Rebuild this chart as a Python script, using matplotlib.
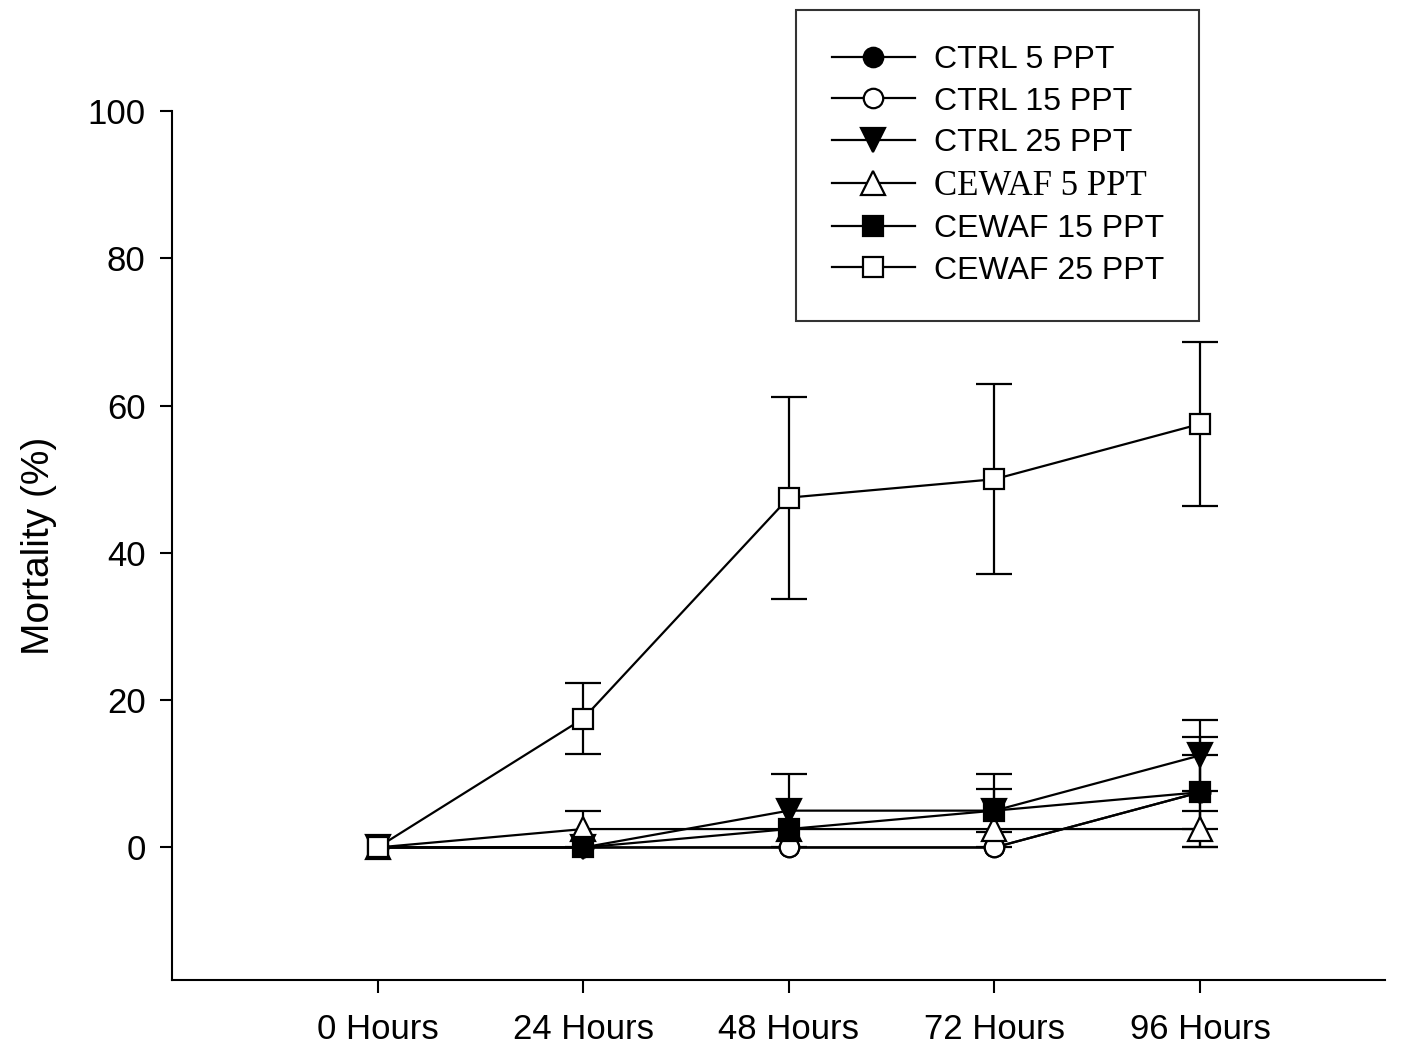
import matplotlib.pyplot as plt
import numpy as np

plt.rcParams['font.family'] = ['Liberation Sans', 'DejaVu Sans']

hours = ['0 Hours', '24 Hours', '48 Hours', '72 Hours', '96 Hours']
labels = ['CTRL 5 PPT', 'CTRL 15 PPT', 'CTRL 25 PPT', 'CEWAF 5 PPT', 'CEWAF 15 PPT', 'CEWAF 25 PPT']

ctrl5 = [0, 0, 0, 0, 7.5]
ctrl5_err = [0, 0, 0, 0, 0]
ctrl15 = [0, 0, 0, 0, 7.5]
ctrl15_err = [0, 0, 0, 0, 7.5]
ctrl25 = [0, 0, 5, 5, 12.5]
ctrl25_err = [0, 0, 5, 5, 4.8]
cewaf5 = [0, 2.5, 2.5, 2.5, 2.5]
cewaf5_err = [0, 2.5, 0, 0, 2.5]
cewaf15 = [0, 0, 2.5, 5, 7.5]
cewaf15_err = [0, 0, 0, 2.9, 5]
cewaf25 = [0, 17.5, 47.5, 50, 57.5]
cewaf25_err = [0, 4.8, 13.7, 12.9, 11.1]

series = [
    (ctrl5, ctrl5_err, 'o', 'black'),
    (ctrl15, ctrl15_err, 'o', 'white'),
    (ctrl25, ctrl25_err, 'v', 'black'),
    (cewaf5, cewaf5_err, '^', 'white'),
    (cewaf15, cewaf15_err, 's', 'black'),
    (cewaf25, cewaf25_err, 's', 'white'),
]

fig = plt.figure(figsize=(14.12, 10.53), dpi=100)
ax = fig.add_axes([0.1218, 0.0693, 0.8592, 0.8253])

x = np.arange(len(hours))
handles = []
for (v, e, m, fc), lb in zip(series, labels):
    v = np.array(v, dtype=float)
    e = np.array(e, dtype=float)
    ms = 14 if m in ('o', 's') else 17
    k = e > 0
    if k.any():
        ax.errorbar(x[k], v[k], yerr=e[k], color='black', elinewidth=1.6, capsize=13,
                    capthick=1.6, fmt='none', zorder=2)
    h, = ax.plot(x, v, color='black', lw=1.6, marker=m, markersize=ms, markerfacecolor=fc,
                 markeredgecolor='black', markeredgewidth=1.6, label=lb, zorder=3)
    handles.append(h)

ax.set_xlim(-1, 4.9)
ax.set_ylim(-18, 100)
ax.set_xticks(x)
ax.set_xticklabels(hours)
ax.set_yticks([0, 20, 40, 60, 80, 100])
ax.tick_params(axis='both', labelsize=25, length=9, width=1.5, direction='out')
ax.tick_params(axis='x', pad=15)
ax.tick_params(axis='y', pad=10)
ax.spines['top'].set_visible(False)
ax.spines['right'].set_visible(False)
for s in ['left', 'bottom']:
    ax.spines[s].set_linewidth(1.5)
ax.set_ylabel('Mortality (%)', fontsize=28, labelpad=22)

leg = fig.legend(handles=handles, loc='upper left', bbox_to_anchor=(0.564, 0.9905),
                 bbox_transform=fig.transFigure, borderaxespad=0, fontsize=23,
                 frameon=True, fancybox=False, edgecolor='black', handlelength=2.6,
                 labelspacing=0.36, borderpad=1.1, handletextpad=0.6)
leg.get_frame().set_linewidth(1.5)
for t in leg.get_texts():
    if t.get_text() == 'CEWAF 5 PPT':
        t.set_family(['Liberation Serif', 'DejaVu Serif'])
        t.set_fontsize(25)

fig.savefig('out.png', dpi=100)
